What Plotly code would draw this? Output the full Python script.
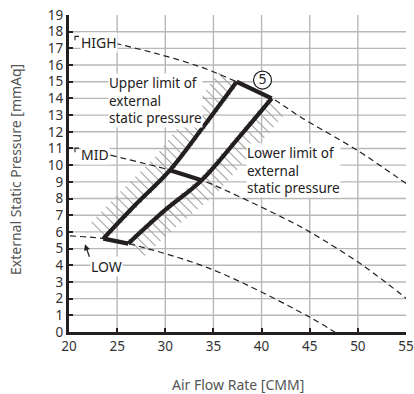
import math
import plotly.graph_objects as go

# ---------------- data ----------------
x_ticks = [20, 25, 30, 35, 40, 45, 50, 55]
y_ticks = list(range(0, 20))
x_grid = [25, 30, 35, 40, 45, 50]
y_grid = list(range(1, 19))

# fan curves (dashed)
high_x = [24.8, 29.0, 33.6, 37.4, 41.1, 44.0, 49.9, 55.5]
high_y = [17.3, 16.7, 15.9, 15.0, 14.0, 12.9, 10.9, 8.7]
mid_x = [24.3, 30.5, 33.8, 42.4, 45.0, 50.5, 55.7]
mid_y = [10.6, 9.7, 9.1, 6.8, 6.0, 4.0, 1.7]
low_x = [20.1, 23.57, 26.16, 34.64, 45.03, 48.45]
low_y = [5.76, 5.60, 5.30, 3.80, 0.88, -0.32]

# upper limit (left boundary) and lower limit (right boundary)
upper_x = [23.57, 26.85, 30.49, 33.95, 37.41]
upper_y = [5.60, 7.60, 9.70, 12.30, 15.00]
lower_x = [26.16, 29.97, 33.78, 37.41, 41.05]
lower_y = [5.30, 7.30, 9.10, 11.50, 14.00]

# labels
curve_labels = ["HIGH", "MID", "LOW"]
curve_label_x = [21.14, 21.14, 22.18]
curve_label_y = [17.36, 10.66, 3.94]
upper_text = "Upper limit of<br>external<br>static pressure"
upper_text_xy = (24.05, 13.9)
lower_text = "Lower limit of<br>external<br>static pressure"
lower_text_xy = (38.38, 9.7)
marker_label = "5"
marker_xy = (40.1, 15.1)
low_arrow_tip = (21.66, 5.26)
x_title = "Air Flow Rate [CMM]"
y_title = "External Static Pressure [mmAq]"

# ---------------- geometry helpers ----------------
W, H = 414, 394
ML, MR, MT, MB = 69, 8, 15, 62
XR = (20, 55)
YR = (0, 19)
PW = W - ML - MR
PH = H - MT - MB
SX = PW / (XR[1] - XR[0])
SY = PH / (YR[1] - YR[0])

DARK = "#231f20"


def hatch(xs, ys, outward, spacing=7.0, length=20.0, inset=3.0):
    px = [(x - XR[0]) * SX for x in xs]
    py = [y * SY for y in ys]
    d = (outward[0] / math.sqrt(2), outward[1] / math.sqrt(2))
    hx, hy = [], []
    seg_lens = [math.hypot(px[i + 1] - px[i], py[i + 1] - py[i]) for i in range(len(px) - 1)]
    total = sum(seg_lens)
    s = spacing / 2
    while s < total:
        acc = 0
        for i, L in enumerate(seg_lens):
            if acc + L >= s:
                t = (s - acc) / L
                cx = px[i] + t * (px[i + 1] - px[i])
                cy = py[i] + t * (py[i + 1] - py[i])
                break
            acc += L
        x0, y0 = cx - inset * d[0], cy - inset * d[1]
        x1, y1 = cx + length * d[0], cy + length * d[1]
        hx += [x0 / SX + XR[0], x1 / SX + XR[0], None]
        hy += [y0 / SY, y1 / SY, None]
        s += spacing
    return hx, hy


fig = go.Figure()

# gridlines
shapes = []
for gx in x_grid:
    shapes.append(dict(type="line", x0=gx, x1=gx, y0=YR[0], y1=YR[1], xref="x", yref="y",
                       line=dict(color="#b8b8b8", width=1.4), layer="below"))
for gy in y_grid:
    shapes.append(dict(type="line", x0=XR[0], x1=XR[1], y0=gy, y1=gy, xref="x", yref="y",
                       line=dict(color="#b8b8b8", width=1.4), layer="below"))

# hatching
hx1, hy1 = hatch(upper_x, upper_y, (-1, 1))
hx2, hy2 = hatch(lower_x, lower_y, (1, -1))
fig.add_trace(go.Scatter(x=hx1 + hx2, y=hy1 + hy2, mode="lines",
                         line=dict(color="#a6a6a6", width=1.1), hoverinfo="skip"))

# dashed fan curves
for cx, cy in [(high_x, high_y), (mid_x, mid_y), (low_x, low_y)]:
    fig.add_trace(go.Scatter(x=cx, y=cy, mode="lines", line_shape="spline",
                             line=dict(color="#222", width=1.2, dash="6px,4px"), hoverinfo="skip"))

# operating range outline
LW = 4.2
fig.add_trace(go.Scatter(x=upper_x, y=upper_y, mode="lines", line_shape="spline",
                         line=dict(color=DARK, width=LW)))
fig.add_trace(go.Scatter(x=lower_x, y=lower_y, mode="lines", line_shape="spline",
                         line=dict(color=DARK, width=LW)))
fig.add_trace(go.Scatter(x=[upper_x[-1], lower_x[-1]], y=[upper_y[-1], lower_y[-1]], mode="lines",
                         line=dict(color=DARK, width=LW)))
fig.add_trace(go.Scatter(x=[upper_x[0], lower_x[0]], y=[upper_y[0], lower_y[0]], mode="lines",
                         line=dict(color=DARK, width=LW)))
fig.add_trace(go.Scatter(x=[upper_x[2], lower_x[2]], y=[upper_y[2], lower_y[2]], mode="lines",
                         line=dict(color=DARK, width=LW)))

# circled number
fig.add_trace(go.Scatter(x=[marker_xy[0]], y=[marker_xy[1]], mode="markers+text",
                         text=[marker_label], textposition="middle center",
                         textfont=dict(size=14, color="#222", family="Noto Sans"),
                         marker=dict(symbol="circle", size=18, color="white",
                                     line=dict(color="#222", width=1.2)),
                         cliponaxis=False))

# leader brackets for HIGH / MID
for lx, ly in zip(curve_label_x[:2], curve_label_y[:2]):
    bx = [lx - 5 / SX, lx - 5 / SX, lx - 1 / SX]
    by = [ly + 2 / SY, ly + 6 / SY, ly + 6 / SY]
    fig.add_trace(go.Scatter(x=bx, y=by, mode="lines", line=dict(color="#222", width=1.1)))

annotations = []
for t, lx, ly in zip(curve_labels, curve_label_x, curve_label_y):
    annotations.append(dict(x=lx, y=ly, text=t, showarrow=False, xanchor="left", yanchor="middle",
                            bgcolor="white", borderpad=0,
                            font=dict(size=14, color="#222", family="Noto Sans")))
for t, (tx, ty) in [(upper_text, upper_text_xy), (lower_text, lower_text_xy)]:
    annotations.append(dict(x=tx, y=ty, text=t, showarrow=False, xanchor="left", align="left",
                            yanchor="middle", bgcolor="white", borderpad=0,
                            font=dict(size=13.5, color="#222", family="Noto Sans")))
annotations.append(dict(x=low_arrow_tip[0], y=low_arrow_tip[1], text="", showarrow=True,
                        ax=5, ay=14, arrowhead=2, arrowsize=1, arrowwidth=1.2,
                        arrowcolor="#222", standoff=0))
# axis titles
annotations.append(dict(xref="paper", yref="paper", x=0.5, y=(PH - (384 - MT)) / PH,
                        text=x_title, showarrow=False, xanchor="center", yanchor="middle",
                        font=dict(size=14, color="#555", family="Noto Sans")))
annotations.append(dict(xref="paper", yref="paper", x=(15 - ML) / PW, y=(PH - (170 - MT)) / PH,
                        text=y_title, showarrow=False, xanchor="center", yanchor="middle",
                        textangle=-90,
                        font=dict(size=14, color="#555", family="Noto Sans")))

fig.update_layout(
    width=W, height=H,
    margin=dict(l=ML, r=MR, t=MT, b=MB, autoexpand=False),
    plot_bgcolor="white", paper_bgcolor="white",
    showlegend=False,
    shapes=shapes,
    annotations=annotations,
    font=dict(family="Noto Sans", color="#333"),
    xaxis=dict(range=list(XR), tickvals=x_ticks, showgrid=False, zeroline=False, automargin=False,
               showline=True, linewidth=3, linecolor=DARK,
               ticks="inside", ticklen=4, tickwidth=2, tickcolor=DARK,
               ticklabeloverflow="allow",
               tickfont=dict(size=13.5, color="#333")),
    yaxis=dict(range=list(YR), tickvals=y_ticks, showgrid=False, zeroline=False, automargin=False,
               showline=True, linewidth=3, linecolor=DARK,
               ticks="inside", ticklen=4, tickwidth=2, tickcolor=DARK,
               ticklabeloverflow="allow",
               tickfont=dict(size=13.5, color="#333")),
)

fig.write_html("out.html", config={"displayModeBar": False},
               post_script="document.body.style.margin='0';document.body.style.overflow='hidden';")
